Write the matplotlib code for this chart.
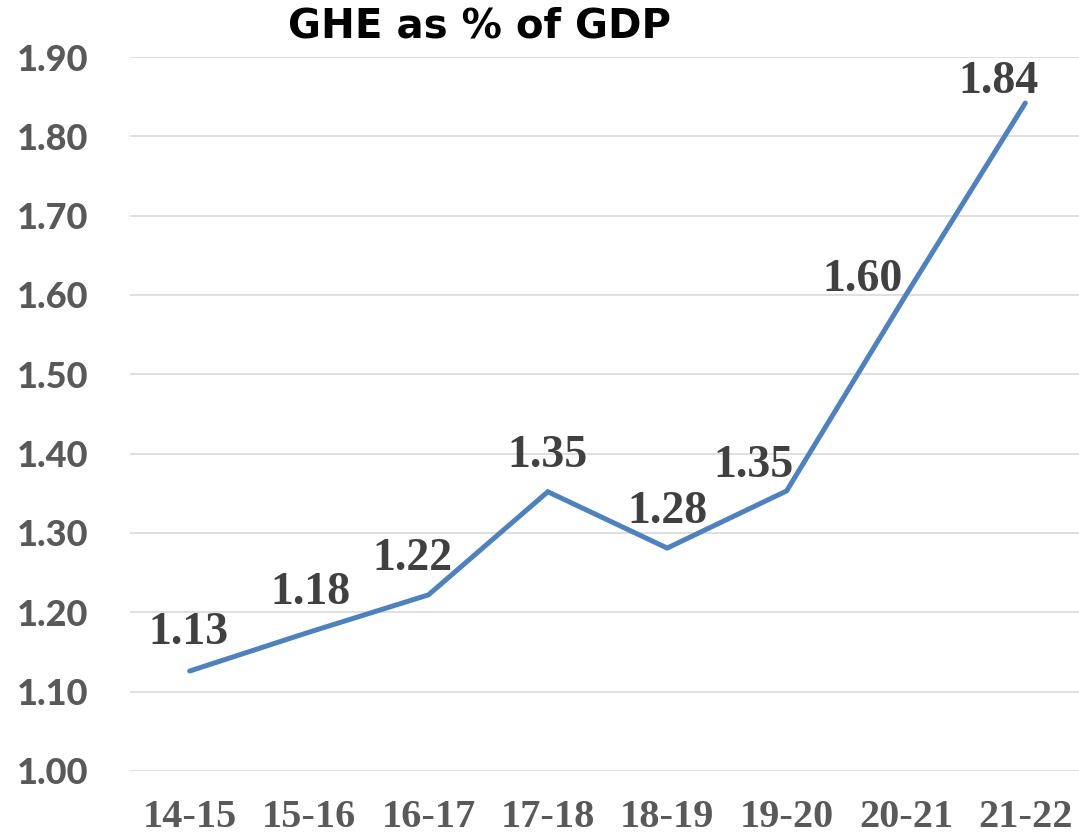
import matplotlib
matplotlib.use("Agg")
import matplotlib.pyplot as plt

# chart data
years = ["14-15", "15-16", "16-17", "17-18", "18-19", "19-20", "20-21", "21-22"]
ghe_pct = [1.126, 1.175, 1.222, 1.352, 1.281, 1.353, 1.600, 1.842]
labels = ["1.13", "1.18", "1.22", "1.35", "1.28", "1.35", "1.60", "1.84"]
y_ticks = [1.00, 1.10, 1.20, 1.30, 1.40, 1.50, 1.60, 1.70, 1.80, 1.90]

# label placement (pixels, relative to the point, baseline)
label_dx = [-1, 1, -16, 0, 0, -33, -43, -27]
label_dy = [27, 28, 25, 25, 25, 14, 4, 10]

LINE_COLOR = "#4F81BD"
GRID_COLOR = "#D9D9D9"
TICK_COLOR = "#595959"
LABEL_COLOR = "#404040"

fig = plt.figure(figsize=(10.79, 8.36), dpi=100)
ax = fig.add_axes([130 / 1079, 65 / 836, 955 / 1079, 714 / 836])

x = list(range(len(years)))
ax.plot(x, ghe_pct, color=LINE_COLOR, linewidth=3.6, solid_capstyle="round",
        solid_joinstyle="miter", zorder=3)

for xi, yi, txt, dx, dy in zip(x, ghe_pct, labels, label_dx, label_dy):
    ax.annotate(txt, (xi, yi), xytext=(dx, dy), textcoords="offset pixels",
                ha="center", va="baseline", fontsize=33, fontweight="bold",
                family="Liberation Serif", color=LABEL_COLOR, zorder=4)

ax.set_xlim(-0.5, len(years) - 0.5)
ax.set_ylim(1.0, 1.9)
ax.set_yticks(y_ticks)
ax.set_yticklabels([f"{v:.2f}" for v in y_ticks], fontsize=26, fontweight=900,
                   family="Lato", color=TICK_COLOR)
ax.set_xticks(x)
ax.set_xticklabels(years, fontsize=29, fontweight="bold",
                   family="Liberation Serif", color=TICK_COLOR)

ax.tick_params(axis="y", length=0, pad=30)
ax.tick_params(axis="x", length=0, pad=20)
ax.grid(axis="y", color=GRID_COLOR, linewidth=1.2)
ax.set_axisbelow(True)
for s in ax.spines.values():
    s.set_visible(False)

fig.text(480 / 1079, 1 - 26 / 836, "GHE as % of GDP", ha="center", va="center",
         fontsize=29, fontweight="bold", family="DejaVu Sans", color="black")

fig.savefig("out.png", dpi=100)
